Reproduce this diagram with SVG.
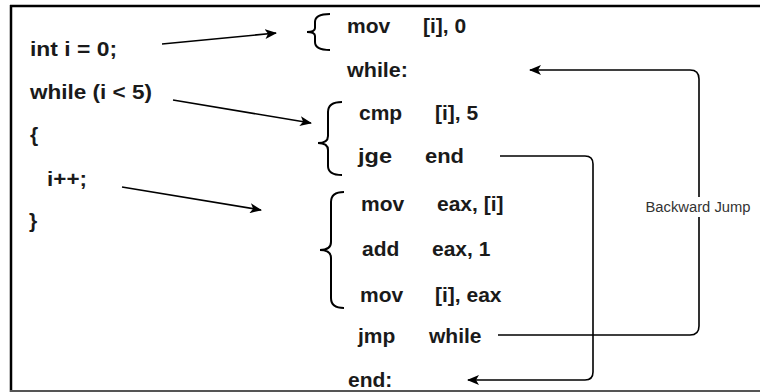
<svg xmlns="http://www.w3.org/2000/svg" width="760" height="392" viewBox="0 0 760 392">
<defs>
<style>
.c{font-family:"Liberation Sans",Arial,sans-serif;font-weight:bold;font-size:21px;fill:#1a1a1a}
.lbl{font-family:"Liberation Sans",Arial,sans-serif;font-size:14px;fill:#333}
.ln{fill:none;stroke:#000;stroke-width:1.6}
.br{fill:none;stroke:#000;stroke-width:2}
</style>
<marker id="ah" viewBox="0 0 12 10" refX="11" refY="5" markerWidth="12" markerHeight="10" markerUnits="userSpaceOnUse" orient="auto">
<path d="M0,0 L12,5 L0,10 L3,5 Z" fill="#000"/>
</marker>
</defs>
<rect width="760" height="392" fill="#fff"/>
<g id="frame">
<line x1="10" y1="6" x2="760" y2="6" stroke="#000" stroke-width="2.5"/>
<line x1="11" y1="5" x2="11" y2="392" stroke="#000" stroke-width="2.5"/>
<line x1="10" y1="391" x2="760" y2="391" stroke="#555" stroke-width="2"/>
</g>
<g id="c-code">
<text class="c" x="30" y="56" textLength="87" lengthAdjust="spacingAndGlyphs">int i = 0;</text>
<text class="c" x="30" y="99" textLength="122" lengthAdjust="spacingAndGlyphs">while (i &lt; 5)</text>
<text class="c" x="30" y="142">{</text>
<text class="c" x="47" y="186" textLength="40" lengthAdjust="spacingAndGlyphs">i++;</text>
<text class="c" x="29" y="228">}</text>
</g>
<g id="asm-init">
<path class="br" d="M330,14 Q315,14 315,22 L315,28 Q315,32 307,32 Q315,32 315,36 L315,42 Q315,50 330,50"/>
<text class="c" x="347" y="33">mov</text>
<text class="c" x="423" y="33">[i], 0</text>
</g>
<g id="asm-while">
<text class="c" x="347" y="77" textLength="61" lengthAdjust="spacingAndGlyphs">while:</text>
</g>
<g id="asm-cond">
<path class="br" d="M342,102 Q328,102 328,112 L328,136 Q328,143 318,143 Q328,143 328,150 L328,166 Q328,175 342,175"/>
<text class="c" x="359" y="120">cmp</text>
<text class="c" x="435" y="120">[i], 5</text>
<text class="c" x="358" y="163" textLength="34" lengthAdjust="spacingAndGlyphs">jge</text>
<text class="c" x="425" y="163" textLength="39" lengthAdjust="spacingAndGlyphs">end</text>
</g>
<g id="asm-body">
<path class="br" d="M344,192 Q331,192 331,202 L331,242 Q331,250 320,250 Q331,250 331,258 L331,298 Q331,308 344,308"/>
<text class="c" x="361" y="211">mov</text>
<text class="c" x="437" y="211">eax, [i]</text>
<text class="c" x="362" y="256">add</text>
<text class="c" x="432" y="256">eax, 1</text>
<text class="c" x="360" y="302">mov</text>
<text class="c" x="435" y="302">[i], eax</text>
</g>
<g id="asm-jmp">
<text class="c" x="358" y="343">jmp</text>
<text class="c" x="429" y="343">while</text>
</g>
<g id="asm-end">
<text class="c" x="348" y="387">end:</text>
</g>
<g id="connectors">
<line class="ln" x1="162" y1="44" x2="276" y2="33" marker-end="url(#ah)"/>
<line class="ln" x1="173" y1="100" x2="311" y2="123" marker-end="url(#ah)"/>
<line class="ln" x1="122" y1="187" x2="261" y2="210" marker-end="url(#ah)"/>
<path class="ln" d="M498,335 L690,335 Q699,335 699,326 L699,79 Q699,70 690,70 L530,70" marker-end="url(#ah)"/>
<path class="ln" d="M500,156 L585,156 Q593,156 593,164 L593,372 Q593,380 585,380 L468,380" marker-end="url(#ah)"/>
<rect x="644" y="197" width="110" height="20" fill="#fff"/>
<text class="lbl" x="698" y="212" text-anchor="middle" textLength="105" lengthAdjust="spacingAndGlyphs">Backward Jump</text>
</g>
</svg>
